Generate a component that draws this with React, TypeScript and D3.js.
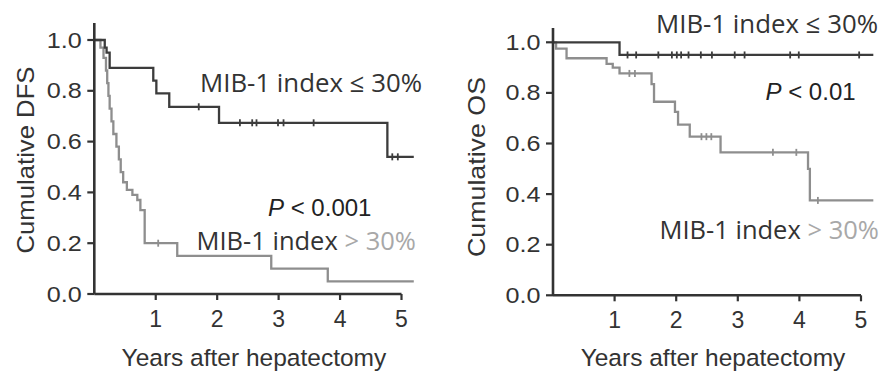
import React from "react";
import * as d3 from "d3";

// ---------- data ----------
const xTickValues = [1, 2, 3, 4, 5];
const yTickValues = [0, 0.2, 0.4, 0.6, 0.8, 1.0];

// DFS, MIB-1 index <= 30%
const dfsLowTimes = [0, 0.17, 0.2, 0.25, 0.96, 1.01, 1.22, 2.03, 4.77, 5.2];
const dfsLowSurv = [1.0, 0.97, 0.95, 0.89, 0.84, 0.79, 0.737, 0.674, 0.54, 0.54];
const dfsLowCensor = [1.7, 2.37, 2.57, 2.64, 2.99, 3.08, 3.57, 4.85, 4.94];

// DFS, MIB-1 index > 30%
const dfsHighTimes = [0, 0.1, 0.15, 0.19, 0.21, 0.23, 0.25, 0.28, 0.31, 0.36, 0.4, 0.43, 0.47, 0.53, 0.62, 0.7, 0.75, 0.82, 1.35, 2.88, 3.8, 5.2];
const dfsHighSurv = [1.0, 0.97, 0.93, 0.88, 0.83, 0.78, 0.73, 0.68, 0.63, 0.58, 0.53, 0.48, 0.44, 0.41, 0.39, 0.37, 0.33, 0.2, 0.15, 0.1, 0.05, 0.05];
const dfsHighCensor = [1.04];

// OS, MIB-1 index <= 30%
const osLowTimes = [0, 1.08, 5.2];
const osLowSurv = [1.0, 0.95, 0.95];
const osLowCensor = [1.21, 1.35, 1.71, 1.93, 2.01, 2.08, 2.2, 2.4, 2.58, 2.95, 3.11, 3.85, 3.99, 4.97];

// OS, MIB-1 index > 30%
const osHighTimes = [0, 0.05, 0.22, 0.87, 0.97, 1.08, 1.6, 1.64, 1.98, 2.03, 2.22, 2.72, 4.14, 4.17, 5.2];
const osHighSurv = [1.0, 0.975, 0.937, 0.915, 0.9, 0.877, 0.835, 0.765, 0.725, 0.675, 0.627, 0.565, 0.5, 0.375, 0.375];
const osHighCensor = [1.24, 1.33, 2.41, 2.49, 2.57, 3.57, 3.95, 4.3];

const DARK = "#3c3c3c";
const GRAY = "#8e8e8e";
const AXIS = "#333";
const ARIAL = "'Liberation Sans', Arial, sans-serif";
const OPEN = "'Open Sans', 'Noto Sans', sans-serif";

type Curve = { times: number[]; surv: number[]; censor: number[]; color: string };

function stepValueAt(times: number[], surv: number[], t: number) {
  let v = surv[0];
  for (let i = 0; i < times.length; i++) if (times[i] <= t) v = surv[i];
  return v;
}

function Panel(props: {
  xr: [number, number];
  yr: [number, number];
  yLabel: string;
  yLabelX: number;
  yLabelCenter: number;
  yLabelLen: number;
  axisTop: number;
  curves: Curve[];
}) {
  const { xr, yr, curves } = props;
  const x = d3.scaleLinear().domain([0, 5]).range(xr);
  const y = d3.scaleLinear().domain([0, 1]).range(yr);
  const line = d3
    .line<[number, number]>()
    .x((d) => x(d[0]))
    .y((d) => y(d[1]))
    .curve(d3.curveStepAfter);
  return (
    <g>
      {curves.map((c, i) => {
        const pts = c.times.map((t, j) => [t, c.surv[j]] as [number, number]);
        return (
          <g key={i}>
            <path d={line(pts) || ""} fill="none" stroke={c.color} strokeWidth={2.3} />
            {c.censor.map((t, j) => {
              const cx = x(t);
              const cy = y(stepValueAt(c.times, c.surv, t));
              return <line key={j} x1={cx} x2={cx} y1={cy - 3.5} y2={cy + 3.5} stroke={c.color} strokeWidth={1.8} />;
            })}
          </g>
        );
      })}
      {/* axes */}
      <line x1={xr[0]} x2={xr[0]} y1={props.axisTop} y2={yr[0]} stroke={AXIS} strokeWidth={2.6} />
      <line x1={xr[0]} x2={x(5)} y1={yr[0]} y2={yr[0]} stroke={AXIS} strokeWidth={2.6} />
      {xTickValues.map((v) => (
        <g key={v}>
          <line x1={x(v)} x2={x(v)} y1={yr[0]} y2={yr[0] + 6} stroke={AXIS} strokeWidth={2.2} />
          <text x={x(v)} y={yr[0] + 33} textAnchor="middle" fontFamily={ARIAL} fontSize={23} fill="#333">
            {v}
          </text>
        </g>
      ))}
      {yTickValues.map((v) => (
        <g key={v}>
          <line x1={xr[0] - 7} x2={xr[0]} y1={y(v)} y2={y(v)} stroke={AXIS} strokeWidth={2.2} />
          <text
            x={xr[0] - 47.5}
            y={y(v) + 7.5}
            fontFamily={ARIAL}
            fontSize={22}
            fill="#333"
            textLength={35}
            lengthAdjust="spacingAndGlyphs"
          >
            {v.toFixed(1)}
          </text>
        </g>
      ))}
      <text
        transform={`translate(${props.yLabelX},${props.yLabelCenter}) rotate(-90)`}
        textAnchor="middle"
        fontFamily={ARIAL}
        fontSize={24}
        fill="#333"
        textLength={props.yLabelLen}
        lengthAdjust="spacingAndGlyphs"
      >
        {props.yLabel}
      </text>
      <text
        x={(xr[0] + x(5)) / 2 + 6}
        y={366}
        textAnchor="middle"
        fontFamily={ARIAL}
        fontSize={24.5}
        fill="#333"
      >
        Years after hepatectomy
      </text>
    </g>
  );
}

export default function App() {
  return (
    <svg
      width={886}
      height={374}
      style={{ position: "absolute", left: 0, top: 0, background: "#fff" }}
    >
      <rect width={886} height={374} fill="#fff" />
      <Panel
        xr={[94.3, 401.5]}
        yr={[294, 40]}
        yLabel="Cumulative DFS"
        yLabelX={33.5}
        yLabelCenter={160}
        yLabelLen={187}
        axisTop={23}
        curves={[
          { times: dfsHighTimes, surv: dfsHighSurv, censor: dfsHighCensor, color: GRAY },
          { times: dfsLowTimes, surv: dfsLowSurv, censor: dfsLowCensor, color: DARK },
        ]}
      />
      <Panel
        xr={[553, 861]}
        yr={[295.3, 42.3]}
        yLabel="Cumulative OS"
        yLabelX={485}
        yLabelCenter={167}
        yLabelLen={180}
        axisTop={28}
        curves={[
          { times: osHighTimes, surv: osHighSurv, censor: osHighCensor, color: GRAY },
          { times: osLowTimes, surv: osLowSurv, censor: osLowCensor, color: DARK },
        ]}
      />
      {/* annotations left */}
      <text x={200} y={92} fontFamily={OPEN} fontSize={25.5} fill="#333" textLength={222} lengthAdjust="spacingAndGlyphs">
        MIB-1 index ≤ 30%
      </text>
      <text x={268} y={216} fontFamily={ARIAL} fontSize={24} fill="#222">
        <tspan fontStyle="italic">P</tspan> &lt; 0.001
      </text>
      <text x={196.5} y={250} fontFamily={OPEN} fontSize={25.5} fill="#333">
        MIB-1 index <tspan fill="#a8a8a8">&gt; 30%</tspan>
      </text>
      {/* annotations right */}
      <text x={656} y={33} fontFamily={OPEN} fontSize={25.5} fill="#333" textLength={222} lengthAdjust="spacingAndGlyphs">
        MIB-1 index ≤ 30%
      </text>
      <text x={765.5} y={100} fontFamily={ARIAL} fontSize={24} fill="#222">
        <tspan fontStyle="italic">P</tspan> &lt; 0.01
      </text>
      <text x={659.5} y={238.5} fontFamily={OPEN} fontSize={25.5} fill="#333">
        MIB-1 index <tspan fill="#a8a8a8">&gt; 30%</tspan>
      </text>
    </svg>
  );
}
